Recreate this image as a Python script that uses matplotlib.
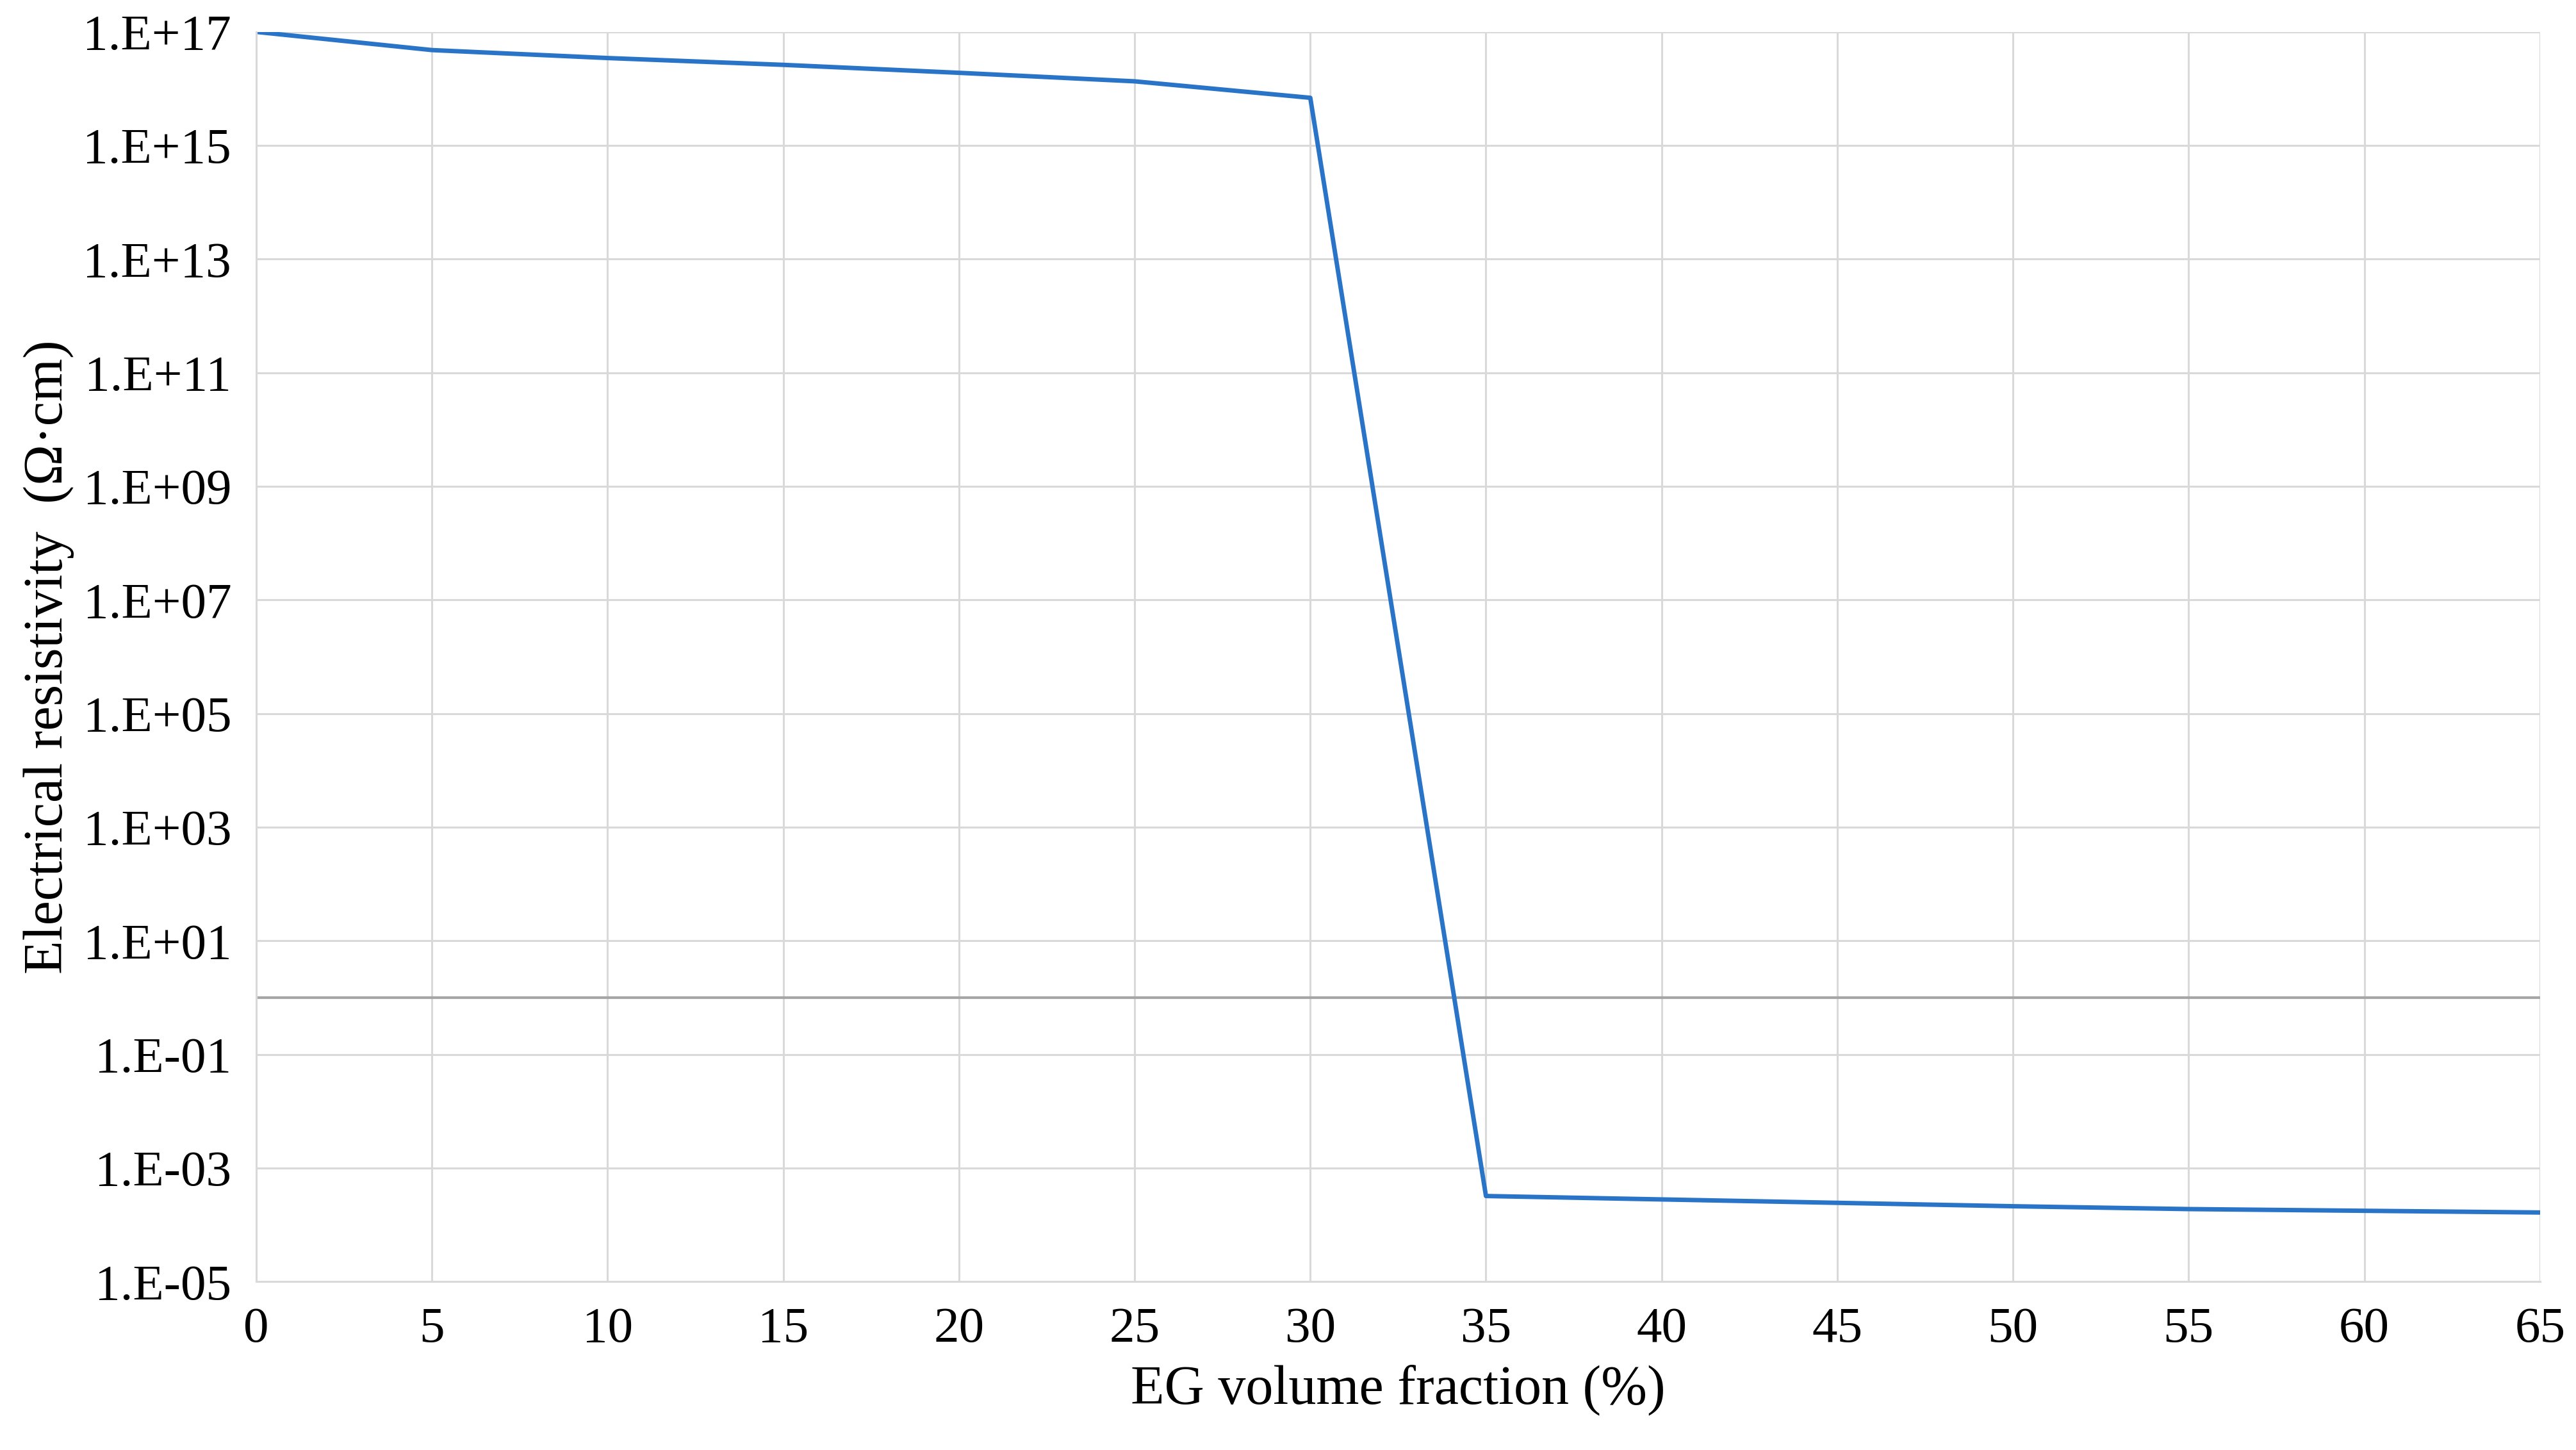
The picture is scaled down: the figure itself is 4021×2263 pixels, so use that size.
import matplotlib.pyplot as plt
from matplotlib.ticker import FixedLocator, NullLocator

plt.rcParams['font.family'] = ['Liberation Serif', 'DejaVu Serif']

# EG volume fraction (%) and resistivity (ohm cm)
eg_fraction = [0, 5, 10, 15, 20, 25, 30, 35, 40, 45, 50, 55, 60, 65]
log_resist = [17.0, 16.68, 16.54, 16.42, 16.28, 16.13, 15.84,
              -3.49, -3.55, -3.61, -3.67, -3.72, -3.75, -3.78]
resistivity = [10 ** v for v in log_resist]

y_ticks = [10.0 ** e for e in range(-5, 18, 2)]
y_labels = ['1.E%+03d' % e if e < 0 else '1.E+%02d' % e for e in range(-5, 18, 2)]

fig = plt.figure(figsize=(40.21, 22.63), dpi=100)
ax = fig.add_axes([0.0995, 0.116, 0.8865, 0.862])

ax.plot(eg_fraction, resistivity, color='#2a74c8', lw=5)
ax.axhline(1.0, color='#a6a6a6', lw=3, zorder=1)

ax.set_yscale('log')
ax.set_ylim(1e-5, 1e17)
ax.set_xlim(0, 65)
ax.yaxis.set_major_locator(FixedLocator(y_ticks))
ax.yaxis.set_minor_locator(NullLocator())
ax.set_yticklabels(y_labels)
ax.set_xticks(range(0, 66, 5))
ax.grid(True, color='#d9d9d9', lw=2.2)
ax.set_axisbelow(True)
for s in ['top', 'right']:
    ax.spines[s].set_visible(False)
ax.spines['left'].set_color('#d9d9d9')
ax.spines['bottom'].set_color('#d9d9d9')
ax.spines['left'].set_linewidth(2.2)
ax.spines['bottom'].set_linewidth(2.2)
ax.tick_params(length=0, labelsize=57, pad=28)

ax.set_xlabel('EG volume fraction (%)', fontsize=62, labelpad=14)
ax.set_ylabel('Electrical resistivity  (Ω·cm)', fontsize=62, labelpad=10)

fig.savefig('out.png')
